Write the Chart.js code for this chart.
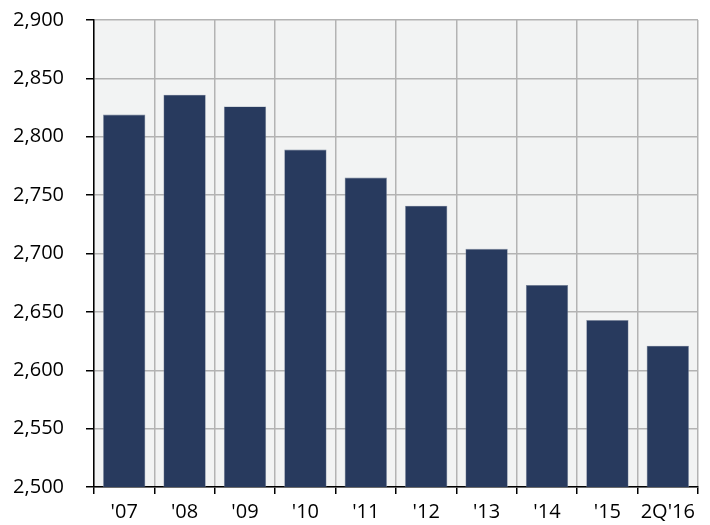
<!DOCTYPE html>
<html><head><meta charset="utf-8">
<script src="https://cdn.jsdelivr.net/npm/chart.js@4/dist/chart.umd.min.js"></script>
<style>html,body{margin:0;padding:0;background:#fff}#wrap{width:710px;height:525px}</style>
</head><body><div id="wrap"><canvas id="c" width="710" height="525"></canvas></div>
<script>
const categories = ["'07","'08","'09","'10","'11","'12","'13","'14","'15","2Q'16"];
const values = [2819, 2836, 2826, 2789, 2765, 2741, 2704, 2673, 2643, 2621];
const yTicks = [2500, 2550, 2600, 2650, 2700, 2750, 2800, 2850, 2900];

const bgPlugin = {
  id: 'bg',
  beforeDraw(chart) {
    const {ctx, chartArea: a} = chart;
    ctx.save();
    ctx.fillStyle = '#f2f3f3';
    ctx.fillRect(a.left, a.top, a.right - a.left, a.bottom - a.top);
    ctx.restore();
  }
};

new Chart(document.getElementById('c'), {
  type: 'bar',
  data: {
    labels: categories,
    datasets: [{
      data: values,
      backgroundColor: '#283a5e',
      borderColor: '#7a869c',
      borderWidth: 0.6,
      categoryPercentage: 0.7,
      barPercentage: 1.0
    }]
  },
  options: {
    responsive: false,
    animation: false,
    devicePixelRatio: 1,
    layout: { padding: { top: 20, right: 12, left: 0, bottom: 0 } },
    plugins: { legend: { display: false }, tooltip: { enabled: false } },
    scales: {
      x: {
        offset: true,
        grid: { offset: true, color: '#b3b3b3', lineWidth: 1.5, tickColor: '#000', tickLength: 7, drawTicks: true },
        border: { color: '#000', width: 1.5 },
        ticks: { color: '#000', font: { family: 'Open Sans', size: 20 }, padding: 6, maxRotation: 0 },
        afterFit(s) { s.height = 38; s.paddingLeft = 0; s.paddingRight = 0; }
      },
      y: {
        min: 2500, max: 2900,
        afterBuildTicks(s) { s.ticks = yTicks.map(v => ({ value: v })); },
        grid: { color: '#b3b3b3', lineWidth: 1.5, tickColor: '#000', tickLength: 8 },
        border: { color: '#000', width: 1.5 },
        ticks: {
          color: '#000', font: { family: 'Open Sans', size: 20 }, padding: 22,
          callback: v => v.toLocaleString('en-US')
        },
        afterFit(s) { s.width = 94; s.paddingTop = 0; s.paddingBottom = 0; }
      }
    }
  },
  plugins: [bgPlugin]
});
</script></body></html>
